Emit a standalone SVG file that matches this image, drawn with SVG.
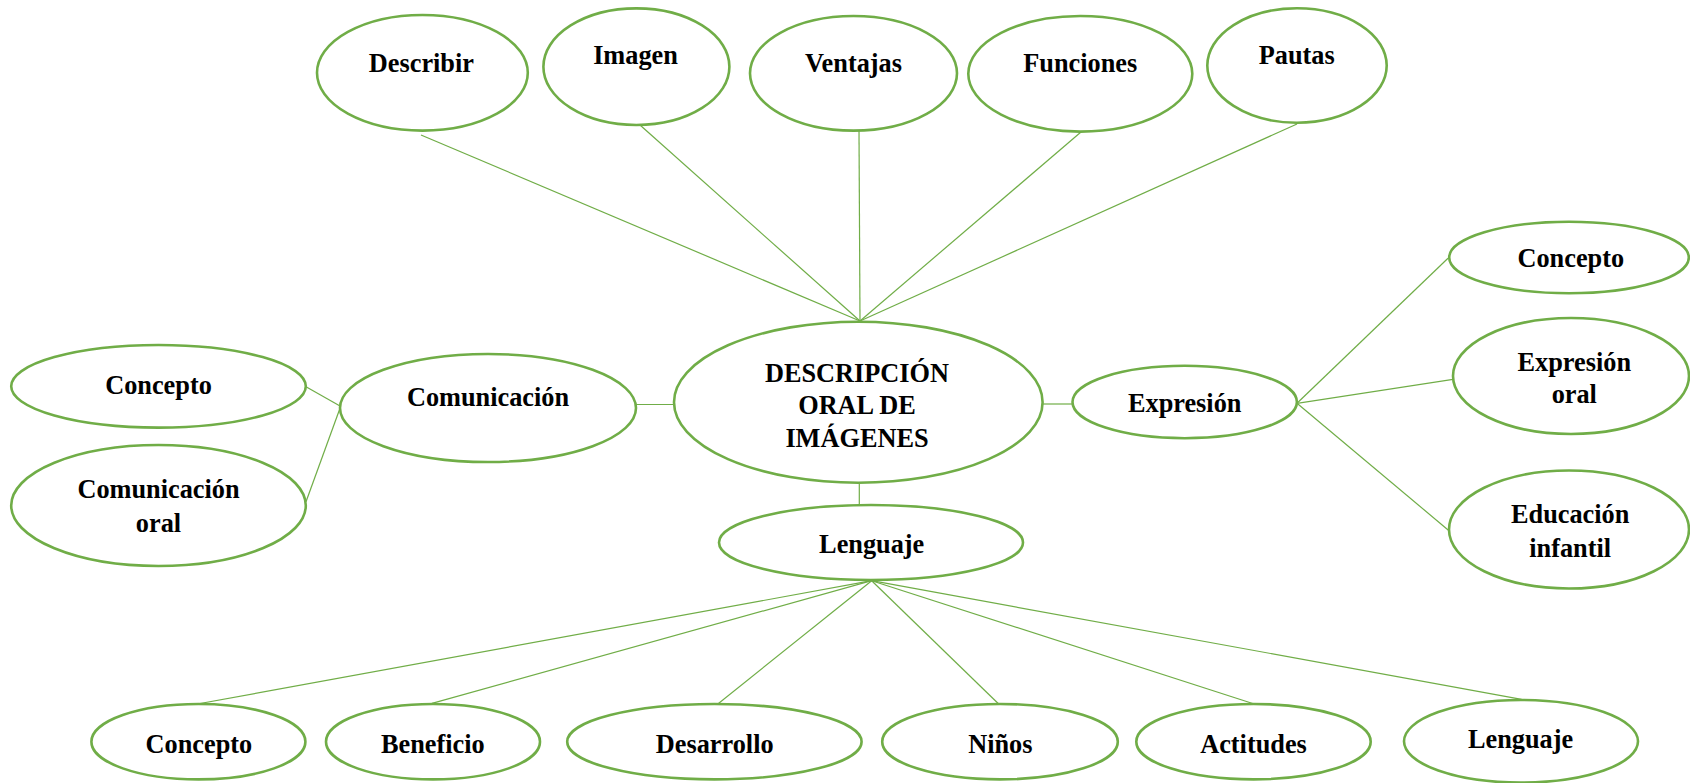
<svg xmlns="http://www.w3.org/2000/svg" width="1690" height="783" viewBox="0 0 1690 783">
<style>
.n ellipse{fill:#ffffff;stroke:#70AD47;stroke-width:2.6}
.n text{font-family:"Liberation Serif","Times New Roman",serif;font-weight:bold;font-size:26.3px;fill:#000;text-anchor:middle}
#connectors line{stroke:#70AD47;stroke-width:1.2}
</style>
<rect width="1690" height="783" fill="#ffffff"/>
<g id="connectors">
<line x1="421" y1="135" x2="860" y2="321"/>
<line x1="640" y1="125" x2="860" y2="321"/>
<line x1="859" y1="131" x2="860" y2="321"/>
<line x1="1081" y1="132" x2="860" y2="321"/>
<line x1="1297" y1="124" x2="860" y2="321"/>
<line x1="636" y1="404.5" x2="674" y2="404.5"/>
<line x1="306" y1="386.7" x2="340" y2="406"/>
<line x1="306" y1="501.7" x2="340" y2="408.3"/>
<line x1="1043" y1="404" x2="1072" y2="404"/>
<line x1="1297" y1="403.3" x2="1448" y2="258.3"/>
<line x1="1297" y1="403.3" x2="1453" y2="379.3"/>
<line x1="1297" y1="403.3" x2="1449" y2="530.7"/>
<line x1="859.3" y1="482.7" x2="859.3" y2="505"/>
<line x1="871.7" y1="580.7" x2="197.3" y2="704"/>
<line x1="871.7" y1="580.7" x2="432" y2="703.3"/>
<line x1="871.7" y1="580.7" x2="717.8" y2="704"/>
<line x1="871.7" y1="580.7" x2="998.7" y2="704"/>
<line x1="871.7" y1="580.7" x2="1254.3" y2="704"/>
<line x1="871.7" y1="580.7" x2="1521.6" y2="699.3"/>
</g>
<g id="describir" class="n"><ellipse cx="422.4" cy="72.8" rx="105.4" ry="57.8"/><text x="421.4" y="71.7">Describir</text></g>
<g id="imagen" class="n"><ellipse cx="636.4" cy="66.7" rx="93" ry="58.3"/><text x="635.5" y="64">Imagen</text></g>
<g id="ventajas" class="n"><ellipse cx="853.5" cy="73.3" rx="103.5" ry="57.3"/><text x="853.5" y="71.7">Ventajas</text></g>
<g id="funciones" class="n"><ellipse cx="1080.3" cy="73.8" rx="112" ry="57.8"/><text x="1080.3" y="71.7">Funciones</text></g>
<g id="pautas" class="n"><ellipse cx="1297" cy="65.5" rx="89.7" ry="57.2"/><text x="1296.7" y="64">Pautas</text></g>
<g id="central" class="n"><ellipse cx="858.3" cy="402.2" rx="184.3" ry="80.5"/><text x="857" y="381.7">DESCRIPCIÓN</text><text x="857" y="414">ORAL DE</text><text x="857" y="446.7">IMÁGENES</text></g>
<g id="comunicacion" class="n"><ellipse cx="488" cy="408" rx="148" ry="54"/><text x="488" y="406">Comunicación</text></g>
<g id="concepto-com" class="n"><ellipse cx="158.5" cy="386.3" rx="147.3" ry="41.3"/><text x="158.5" y="394">Concepto</text></g>
<g id="comunicacion-oral" class="n"><ellipse cx="158.5" cy="505.5" rx="147.3" ry="60.5"/><text x="158.5" y="498.3">Comunicación</text><text x="158.5" y="531.7">oral</text></g>
<g id="expresion" class="n"><ellipse cx="1184.7" cy="402" rx="112.2" ry="36.2"/><text x="1184.7" y="411.7">Expresión</text></g>
<g id="concepto-exp" class="n"><ellipse cx="1569" cy="257.5" rx="119.8" ry="35.8"/><text x="1570.8" y="267.3">Concepto</text></g>
<g id="expresion-oral" class="n"><ellipse cx="1571" cy="376" rx="118" ry="58"/><text x="1574.3" y="370.7">Expresión</text><text x="1574.3" y="403.3">oral</text></g>
<g id="educacion-infantil" class="n"><ellipse cx="1569" cy="529.5" rx="120" ry="59"/><text x="1570.2" y="523.3">Educación</text><text x="1570.2" y="556.7">infantil</text></g>
<g id="lenguaje" class="n"><ellipse cx="871" cy="542.5" rx="152" ry="37.5"/><text x="871.7" y="552.7">Lenguaje</text></g>
<g id="concepto-len" class="n"><ellipse cx="198.4" cy="741.7" rx="107" ry="37.7"/><text x="198.9" y="753.3">Concepto</text></g>
<g id="beneficio" class="n"><ellipse cx="433" cy="741.7" rx="107" ry="37.7"/><text x="432.8" y="753.3">Beneficio</text></g>
<g id="desarrollo" class="n"><ellipse cx="714.4" cy="741.7" rx="147.2" ry="37.7"/><text x="714.7" y="753.3">Desarrollo</text></g>
<g id="ninos" class="n"><ellipse cx="1000" cy="741.7" rx="117.8" ry="37.7"/><text x="1000.3" y="753.3">Niños</text></g>
<g id="actitudes" class="n"><ellipse cx="1253.5" cy="741.7" rx="117.2" ry="37.7"/><text x="1253.5" y="753.3">Actitudes</text></g>
<g id="lenguaje-2" class="n"><ellipse cx="1521" cy="741.3" rx="117" ry="41.3"/><text x="1520.6" y="748.3">Lenguaje</text></g>
</svg>
